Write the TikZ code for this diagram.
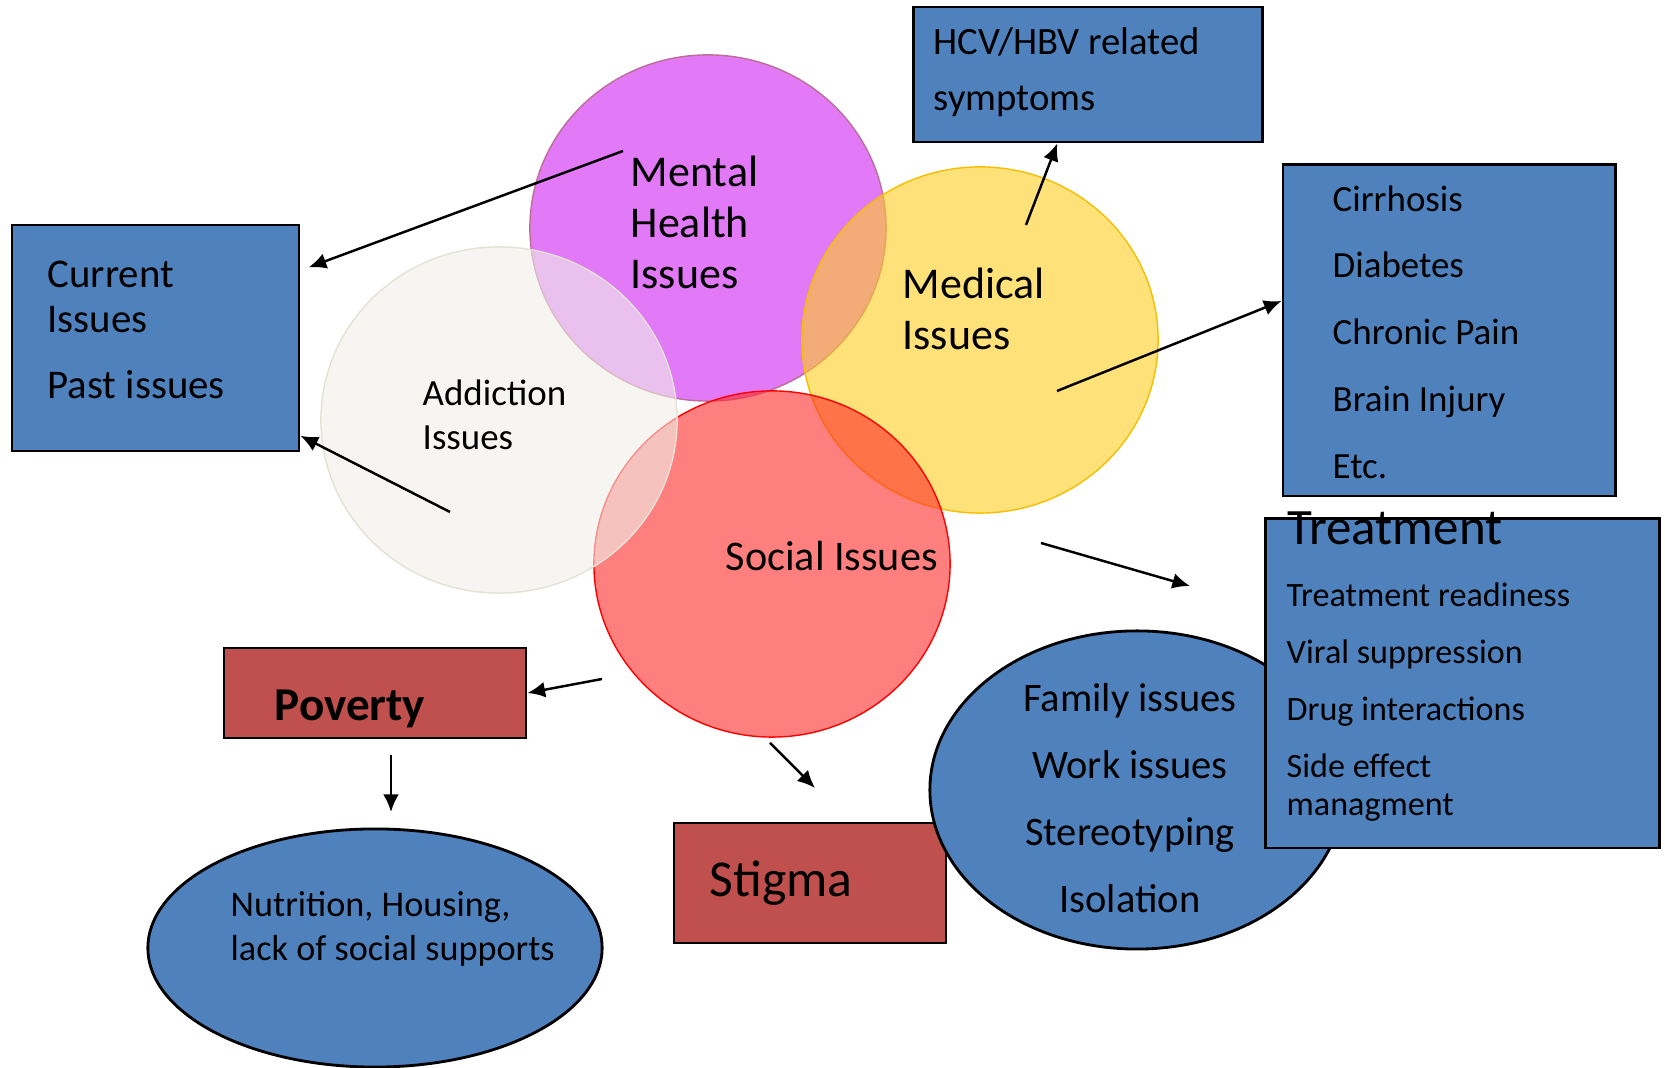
\documentclass[tikz,border=0pt]{standalone}
\usepackage{fontspec}
\setmainfont{Carlito}
\usetikzlibrary{arrows.meta,shapes.geometric}

\definecolor{mentalc}{RGB}{226,122,248}
\definecolor{mentalb}{RGB}{190,110,150}
\definecolor{medc}{RGB}{255,205,33}
\definecolor{medb}{RGB}{245,190,0}
\definecolor{socc}{RGB}{255,42,42}
\definecolor{socb}{RGB}{255,0,0}
\definecolor{addc}{RGB}{240,239,232}
\definecolor{addb}{RGB}{228,225,214}
\definecolor{boxblue}{RGB}{79,129,189}
\definecolor{boxred}{RGB}{192,80,77}

\tikzset{
	venn/.style={ellipse, minimum width=3.56cm, minimum height=3.46cm, inner sep=0pt, line width=0.4pt},
	bluebox/.style={draw=black, line width=0.8pt, fill=boxblue, inner sep=0pt},
	redbox/.style={draw=black, line width=0.8pt, fill=boxred, inner sep=0pt},
	blueoval/.style={ellipse, draw=black, line width=0.8pt, fill=boxblue, inner sep=0pt},
	txt/.style={inner sep=0pt, anchor=west, align=left},
	arr/.style={-{Latex[length=5pt,width=4.5pt]}, line width=0.7pt}
}

\begin{document}
\begin{tikzpicture}[x=0.01cm, y=-0.01cm]

	%Background
	\useasboundingbox (0,0) rectangle (1665,1068);
	\fill[white] (0,0) rectangle (1665,1068);

	%Circles
	\node[venn, fill=mentalc, draw=mentalb] (mental) at (708,228) {};
	\node[venn, fill=medc, fill opacity=0.6, draw=medb] (medical) at (980,340) {};
	\node[venn, fill=socc, fill opacity=0.6, draw=socb] (social) at (772,564) {};
	\node[venn, fill=addc, fill opacity=0.6, draw=addb] (addiction) at (499,420) {};

	%Boxes
	\node[bluebox, minimum width=2.87cm, minimum height=2.26cm] (current) at (155.5,338) {};
	\node[bluebox, minimum width=3.48cm, minimum height=1.35cm] (hcv) at (1088,74.5) {};
	\node[bluebox, minimum width=3.32cm, minimum height=3.31cm] (medlist) at (1449,330.5) {};
	\node[redbox, minimum width=3.02cm, minimum height=0.90cm] (poverty) at (375,693) {};
	\node[blueoval, minimum width=4.54cm, minimum height=2.38cm] (nutrition) at (375,948) {};
	\node[redbox, minimum width=2.72cm, minimum height=1.20cm] (stigma) at (810,883) {};
	\node[blueoval, minimum width=4.14cm, minimum height=3.18cm] (family) at (1137,790) {};
	\node[bluebox, minimum width=3.93cm, minimum height=3.29cm] (treat) at (1462.5,683.5) {};

	%Arrow ends
	\coordinate (mentalout) at (623,151);
	\coordinate (addout) at (450,512);
	\coordinate (medup) at (1026,225);
	\coordinate (medright) at (1057,391);
	\coordinate (socright) at (1041,543);
	\coordinate (socend) at (1190,586);
	\coordinate (socleft) at (602,679);
	\coordinate (socdown) at (770,743);
	\coordinate (socdownend) at (815,788);
	\coordinate (povout) at (391,755);
	\coordinate (nutin) at (391,812);

	%Arrows
	\draw[arr, shorten >=2.5pt] (mentalout) -- (current.25);
	\draw[arr] (addout) -- (current.-34);
	\draw[arr] (medup) -- (hcv.-114);
	\draw[arr] (medright) -- (medlist.170);
	\draw[arr] (socright) -- (socend);
	\draw[arr] (socleft) -- (poverty.east);
	\draw[arr] (socdown) -- (socdownend);
	\draw[arr] (povout) -- (nutin);

	%Texts
	\node[txt, font=\fontsize{12.5}{14.5}\selectfont] (mentaltxt) at (630,222) {Mental\\Health\\Issues};
	\node[txt, font=\fontsize{12.5}{14.5}\selectfont] (medtxt) at (902,309) {Medical\\Issues};
	\node[txt, font=\fontsize{10.5}{12.5}\selectfont] (addtxt) at (422,415) {Addiction\\Issues};
	\node[txt, font=\fontsize{12}{14}\selectfont] (soctxt) at (725,556) {Social Issues};
	\node[txt, font=\fontsize{11.6}{12.8}\selectfont] (curtxt) at (47,330) {Current\\Issues\\[6.2pt]Past issues};
	\node[txt, font=\fontsize{11}{16}\selectfont] (hcvtxt) at (933,72) {HCV/HBV related\\symptoms};
	\node[txt, font=\fontsize{10.5}{19}\selectfont] (medlisttxt) at (1332,332) {Cirrhosis\\Diabetes\\Chronic Pain\\Brain Injury\\Etc.};
	\node[txt, font=\fontsize{14.5}{16}\selectfont] (treattitle) at (1287,528) {Treatment};
	\node[txt, font=\fontsize{9.7}{10.8}\selectfont] (treattxt) at (1286,702) {Treatment readiness\\[5.4pt]Viral suppression\\[5.4pt]Drug interactions\\[5.4pt]Side effect\\managment};
	\node[inner sep=0pt, align=center, font=\fontsize{11.5}{19}\selectfont] (famtxt) at (1130,798) {Family issues\\Work issues\\Stereotyping\\Isolation};
	\node[txt, font=\fontsize{10.3}{12.5}\selectfont] (nuttxt) at (230,929) {Nutrition, Housing,\\lack of social supports};
	\node[inner sep=0pt, font=\bfseries\fontsize{13.4}{16}\selectfont] (povtxt) at (350,709) {Poverty};
	\node[inner sep=0pt, font=\fontsize{14.7}{17}\selectfont] (stigtxt) at (781,883) {Stigma};

\end{tikzpicture}
\end{document}
